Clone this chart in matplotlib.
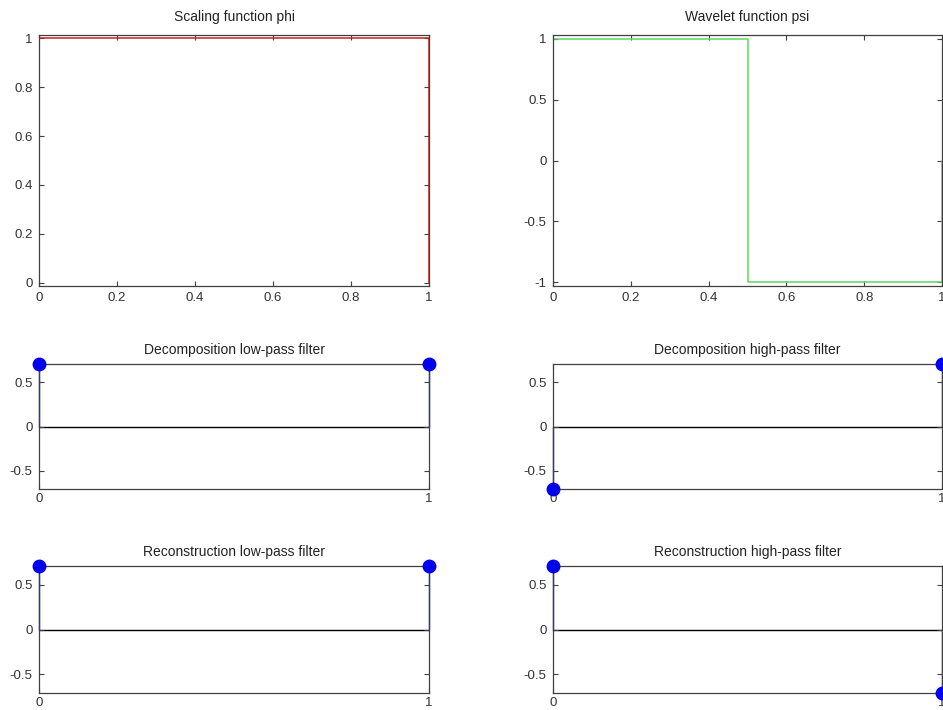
import numpy as np
import matplotlib
matplotlib.use('Agg')
import matplotlib.pyplot as plt

plt.rcParams['font.family'] = ['Liberation Sans', 'DejaVu Sans']
plt.rcParams['font.size'] = 9.5

# Haar wavelet data
phi_x = [0, 0, 1, 1]
phi_y = [0, 1, 1, 0]
psi_x = [0, 0, 0.5, 0.5, 1, 1]
psi_y = [0, 1, 1, -1, -1, 0]

filter_x = [0, 1]
lo_d = [0.7071, 0.7071]
hi_d = [-0.7071, 0.7071]
lo_r = [0.7071, 0.7071]
hi_r = [0.7071, -0.7071]

W, H = 943, 710
AX_COLOR = '#404040'


def make_axes(fig, x0, x1, y0, y1):
    ax = fig.add_axes([x0 / W, 1 - y1 / H, (x1 - x0) / W, (y1 - y0) / H])
    for s in ax.spines.values():
        s.set_color(AX_COLOR)
        s.set_linewidth(0.9)
    ax.tick_params(direction='in', length=3.5, width=0.8, top=True, right=True,
                   colors=AX_COLOR, labelcolor='#333333', pad=4.5, labelsize=9.5)
    return ax


def func_plot(ax, x, y, color, title, ylim, yticks, ylabels):
    ax.plot(x, y, color=color, lw=1.1)
    ax.set_xlim(0, 1)
    ax.set_ylim(*ylim)
    ax.set_xticks([0, 0.2, 0.4, 0.6, 0.8, 1])
    ax.set_xticklabels(['0', '0.2', '0.4', '0.6', '0.8', '1'])
    ax.set_yticks(yticks)
    ax.set_yticklabels(ylabels)
    ax.set_title(title, fontsize=10, pad=10, color='#222222')


def filter_plot(ax, y, title):
    ax.axhline(0, color='black', lw=1.0, zorder=1)
    for xi, yi in zip(filter_x, y):
        ax.plot([xi, xi], [0, yi], color='#2a2a9a', lw=1.0, clip_on=False, zorder=2)
    ax.plot(filter_x, y, 'o', color='#0000ee', markersize=9, clip_on=False, zorder=3)
    ax.set_xlim(0, 1)
    ax.set_ylim(-0.7071, 0.7071)
    ax.set_xticks([0, 1])
    ax.set_xticklabels(['0', '1'])
    ax.set_yticks([-0.5, 0, 0.5])
    ax.set_yticklabels(['-0.5', '0', '0.5'])
    ax.tick_params(axis='x', pad=3)
    ax.set_title(title, fontsize=10, pad=7, color='#222222')


fig = plt.figure(figsize=(W / 100, H / 100), dpi=100)

ax = make_axes(fig, 39, 429, 35, 286)
func_plot(ax, phi_x, phi_y, '#cc2222', 'Scaling function phi', (-0.0125, 1.0125),
          [0, 0.2, 0.4, 0.6, 0.8, 1], ['0', '0.2', '0.4', '0.6', '0.8', '1'])

ax = make_axes(fig, 553, 942, 35, 286)
func_plot(ax, psi_x, psi_y, '#5ed85e', 'Wavelet function psi', (-1.03, 1.03),
          [-1, -0.5, 0, 0.5, 1], ['-1', '-0.5', '0', '0.5', '1'])

ax = make_axes(fig, 39, 429, 364, 489)
filter_plot(ax, lo_d, 'Decomposition low-pass filter')

ax = make_axes(fig, 553, 942, 364, 489)
filter_plot(ax, hi_d, 'Decomposition high-pass filter')

ax = make_axes(fig, 39, 429, 566, 693)
filter_plot(ax, lo_r, 'Reconstruction low-pass filter')

ax = make_axes(fig, 553, 942, 566, 693)
filter_plot(ax, hi_r, 'Reconstruction high-pass filter')

fig.savefig('out.png', dpi=100)
